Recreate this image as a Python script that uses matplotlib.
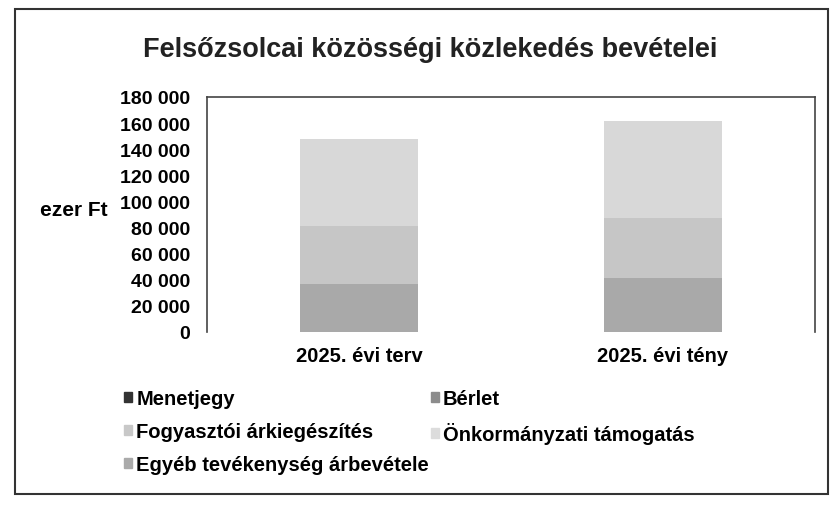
import matplotlib.pyplot as plt
from matplotlib.patches import Rectangle

plt.rcParams['font.family'] = ['Liberation Sans', 'DejaVu Sans']
plt.rcParams['font.weight'] = 'bold'

categories = ['2025. évi terv', '2025. évi tény']
series = ['Menetjegy', 'Bérlet', 'Fogyasztói árkiegészítés',
          'Önkormányzati támogatás', 'Egyéb tevékenység árbevétele']
menetjegy = [0, 0]
berlet = [36500, 41500]
fogyasztoi = [45000, 45500]
onkormanyzati = [66500, 75000]
egyeb = [0, 0]
values = [menetjegy, berlet, fogyasztoi, onkormanyzati, egyeb]
colors = ['#2e2e2e', '#a9a9a9', '#c6c6c6', '#d8d8d8', '#b0b0b0']
legend_colors = ['#333333', '#8c8c8c', '#c8c8c8', '#dcdcdc', '#aaaaaa']

fig = plt.figure(figsize=(8.32, 5.06), dpi=100)
W, H = 832, 506
ax = fig.add_axes([207 / W, 1 - 333 / H, (815 - 207) / W, (333 - 98) / H])

x = range(len(categories))
bottom = [0, 0]
for name, vals, c in zip(series, values, colors):
    ax.bar(x, vals, 0.39, bottom=bottom, color=c, linewidth=0)
    bottom = [b + v for b, v in zip(bottom, vals)]

handles = {}
for name, lc in zip(series, legend_colors):
    handles[name] = Rectangle((0, 0), 1, 1, color=lc, label=name)
# row-major order as in the original legend
order = [0, 2, 4, 1, 3]
leg_handles = [handles[series[i]] for i in order]

ax.set_xlim(-0.5, 1.5)
ax.set_ylim(0, 180000)
ax.set_yticks(range(0, 180001, 20000))
ax.set_yticklabels([f'{v:,}'.replace(',', ' ') for v in range(0, 180001, 20000)])
ax.set_xticks(list(x))
ax.set_xticklabels(categories, fontsize=14.5)
ax.tick_params(axis='y', length=0, labelsize=14, pad=12)
ax.tick_params(axis='x', length=0, pad=10)
for s in ['top', 'left', 'right']:
    ax.spines[s].set_color('#444444')
    ax.spines[s].set_linewidth(1.2)
ax.spines['bottom'].set_visible(False)

fig.text(74 / W, 1 - 211 / H, 'ezer Ft', fontsize=15, fontweight='bold',
         ha='center', va='center')
fig.text(430 / W, 1 - 50 / H, 'Felsőzsolcai közösségi közlekedés bevételei',
         fontsize=19.5, fontweight='bold', ha='center', va='center', color='#222222')

fig.legend(handles=leg_handles, loc='upper left', bbox_to_anchor=(106 / W, 1 - 372 / H),
           ncol=2, frameon=False, fontsize=14.5, handlelength=0.4, handleheight=0.4,
           handletextpad=0.2, columnspacing=0.1, labelspacing=0.7)

fig.patches.append(Rectangle((15 / W, 1 - 495 / H), (828 - 15) / W, (495 - 10) / H,
                             transform=fig.transFigure, fill=False,
                             edgecolor='#333333', linewidth=1.5))

fig.savefig('out.png', dpi=100)
